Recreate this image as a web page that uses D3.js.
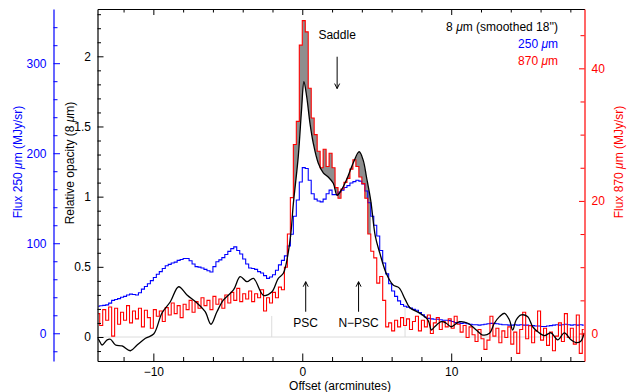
<!DOCTYPE html>
<html><head><meta charset="utf-8">
<script src="https://cdn.jsdelivr.net/npm/d3@7"></script>
<style>
body{margin:0;background:#fff}
svg{display:block;font-family:"Liberation Sans",Arial,Helvetica,sans-serif}
</style></head><body>
<svg id="c" width="628" height="392"></svg>
<script>
// ---- data ----
const offsetStart = -13.7, offsetStep = 0.2;   // sampling of the 250 / 870 micron profiles (arcmin)
const red870 = [
 3.0,1.2,3.6,2.0,4.0,-0.4,3.8,1.4,3.2,2.0, 4.2,1.6,3.4,2.2,3.8,1.0,3.5,2.4,0.8,3.6,
 2.6,3.4,1.8,3.9,2.8,4.6,3.0,4.2,2.4,4.4, 3.6,5.0,3.2,4.8,3.8,5.4,4.2,5.0,3.6,5.6,
 4.4,5.2,3.8,5.8,4.6,6.2,5.0,6.8,4.8,6.0, 5.2,6.4,4.8,6.0,5.4,6.6,3.4,5.4,4.6,6.2,
 5.4,7.0,6.6,10.0,15.0,20.5,28.5,32.0,43.5,47.2, 45.5,37.0,32.5,30.0,27.5,25.0,27.8,25.2,27.2,25.0,
 22.0,20.4,21.8,22.8,23.4,24.8,26.2,25.2,23.6,22.6, 20.4,15.0,12.4,11.4,7.6,8.6,5.0,1.0,1.6,0.4,
 2.0,1.0,2.4,1.2,2.2,0.6,1.8,2.6,0.4,2.0, 1.0,2.8,0.0,1.6,2.4,0.6,1.8,1.0,2.2,0.8,
 2.6,1.4,0.2,1.2,-0.6,1.0,-0.2,-1.2,0.6,-0.8, -2.4,-1.0,2.6,-0.4,0.8,-1.4,0.4,-0.6,1.0,-1.6,
 0.2,-3.0,0.6,3.2,-0.8,1.2,-1.4,0.4,3.4,-1.0, 0.8,-1.8,0.2,-2.6,-0.4,1.6,-1.2,3.0,-0.6,0.8,
 -1.6,2.8,-3.0,0.6
];
const blue250 = [
 30.0,30.5,31.0,31.5,33.5,36.5,37.5,38.5,40.0,41.0, 42.5,43.5,43.0,42.5,45.0,49.0,52.0,55.0,58.5,62.0,
 65.5,68.5,72.0,75.0,76.5,78.0,79.0,81.0,82.0,83.0, 83.0,80.5,77.0,74.0,73.5,72.5,71.0,69.5,68.0,74.0,
 79.5,81.5,84.0,87.5,91.0,94.0,96.0,92.0,88.0,82.5, 77.0,72.5,72.0,71.0,68.5,67.0,64.0,61.0,62.5,65.0,
 70.0,76.0,81.0,86.0,97.0,110.0,130.0,148.0,168.0,184.0, 183.0,170.0,155.0,149.0,147.0,146.0,149.0,155.0,159.0,154.0,
 154.0,157.0,159.0,162.0,164.0,167.0,168.5,170.0,169.0,166.0, 158.0,145.0,130.0,120.0,108.0,92.0,78.0,66.0,55.0,47.0,
 41.0,36.0,32.0,30.0,29.0,28.0,26.5,25.5,23.0,20.5, 18.0,16.5,16.0,15.5,15.5,15.0,14.5,14.5,14.0,13.0,
 12.0,11.5,11.0,11.5,10.5,10.0,9.5,9.5,9.0,9.5, 10.0,10.5,11.0,11.0,10.5,10.0,9.5,9.5,9.0,9.0,
 9.5,9.0,9.5,9.0,9.0,8.5,8.5,8.0,8.0,7.5, 7.5,8.0,8.5,9.0,9.5,9.0,9.5,10.0,9.5,9.0,
 9.5,9.0,9.5,9.0
];
const blackOffset = [
 -13.75,-13.66,-13.44,-13.1,-12.88,-12.54,-12.1,-11.54,-11.09,-10.53,-9.98,-9.42,-8.86,-8.3,-7.74,-7.07,
 -6.52,-6.13,-5.73,-5.29,-4.62,-4.17,-3.72,-3.28,-2.61,-2.05,-1.61,-1.27,-0.82,-0.6,-0.27,-0.05,
 0.11,0.3,0.52,0.74,1.07,1.41,1.74,2.08,2.34,2.64,2.97,3.42,3.82,4.09,4.31,4.6,
 4.9,5.2,5.65,6.1,6.5,6.9,7.21,7.88,8.44,8.67,8.89,9.34,9.67,10.0,10.56,11.12,
 11.68,12.12,12.57,12.9,13.24,13.58,13.91,14.13,14.36,14.7,15.14,15.47,15.81,16.26,16.7,17.15,
 17.6,18.04,18.38,18.7,18.93
];
const blackOpacity = [
 -0.01,-0.021,-0.057,-0.02,-0.016,-0.057,-0.064,-0.098,-0.057,-0.009,0.021,0.171,0.251,0.358,0.299,0.242,
 0.18,0.091,0.18,0.264,0.335,0.43,0.394,0.418,0.297,0.32,0.418,0.454,0.69,0.95,1.285,1.617,
 1.82,1.71,1.52,1.38,1.24,1.17,1.14,1.095,1.01,1.05,1.12,1.24,1.32,1.26,1.14,0.97,
 0.72,0.6,0.45,0.37,0.35,0.27,0.21,0.17,0.121,0.05,0.073,0.109,0.098,0.073,0.109,0.098,
 0.05,0.014,0.026,0.098,0.145,0.169,0.121,0.05,0.121,0.157,0.145,0.073,0.038,0.01,0.03,-0.02,
 0.03,-0.02,-0.04,-0.03,0.03
];
const shadeRange = [-0.6, 4.6];              // region shaded between 8 and 870 micron profiles
const baselineMarks = [[-2.05, 0.15], [6.9, 0.23]];
const xMajor = [-10, 0, 10];
const xMinor = [-12,-8,-6,-4,-2,2,4,6,8,12,14,16,18];
const opMajor = [0, 0.5, 1, 1.5, 2];
const opMinor = [-0.1,0.1,0.2,0.3,0.4,0.6,0.7,0.8,0.9,1.1,1.2,1.3,1.4,1.6,1.7,1.8,1.9,2.1,2.2,2.3];
const blueMajor = [0, 100, 200, 300];
const blueMinor = [-20,20,40,60,80,120,140,160,180,220,240,260,280,320,340];
const redMajor = [0, 20, 40];
const redMinor = [5,10,15,25,30,35,45];
const legend = [
  {t: ["8 ", "μ", "m (smoothed 18'')"], c: "#000"},
  {t: ["250 ", "μ", "m"], c: "#0000ff"},
  {t: ["870 ", "μ", "m"], c: "#ff0000"}
];
const notes = [
  {label: "Saddle", x: 2.34, from: 1.997, to: 1.77, textAt: 2.12},
  {label: "PSC", x: 0.23, from: 0.18, to: 0.394, textAt: 0.068},
  {label: "N−PSC", x: 3.78, from: 0.18, to: 0.394, textAt: 0.068}
];

// ---- chart ----
const svg = d3.select("#c");
const L = 97.5, R = 584.5, T = 9, B = 361;
const x = d3.scaleLinear().domain([-13.75, 18.95]).range([L, R]);
const yL = d3.scaleLinear().domain([-0.171, 2.337]).range([B, T]);
const yB = d3.scaleLinear().domain([-30.8, 360.2]).range([B, T]);
const yR = d3.scaleLinear().domain([-4.15, 48.95]).range([B, T]);
const FS = 12;

svg.append("defs").append("clipPath").attr("id","clip")
  .append("rect").attr("x",L).attr("y",T).attr("width",R-L).attr("height",B-T);
const plot = svg.append("g").attr("clip-path","url(#clip)");

plot.append("line").attr("x1",L).attr("x2",R).attr("y1",yL(0)).attr("y2",yL(0))
  .attr("stroke","#dcdcdc").attr("stroke-width",1);
baselineMarks.forEach(m => plot.append("line")
  .attr("x1",x(m[0])).attr("x2",x(m[0])).attr("y1",yL(0)).attr("y2",yL(m[1]))
  .attr("stroke","#dcdcdc").attr("stroke-width",1));

const redPts = red870.map((v,i)=>[offsetStart+i*offsetStep, v]);
const bluePts = blue250.map((v,i)=>[offsetStart+i*offsetStep, v]);
const blackPts = blackOffset.map((o,i)=>[o, blackOpacity[i]]);

function blackAt(o){
  const i = d3.bisectRight(blackOffset, o);
  if (i<=0) return blackOpacity[0];
  if (i>=blackOffset.length) return blackOpacity[blackOffset.length-1];
  const t=(o-blackOffset[i-1])/(blackOffset[i]-blackOffset[i-1]);
  return blackOpacity[i-1]+t*(blackOpacity[i]-blackOpacity[i-1]);
}
function redAt(o){
  const i = Math.max(0, Math.min(red870.length-1, Math.round((o-offsetStart)/offsetStep)));
  return red870[i];
}
const shadeX = d3.range(shadeRange[0], shadeRange[1]+1e-9, 0.02);
plot.append("path")
  .datum(shadeX)
  .attr("d", d3.area().x(o=>x(o)).y0(o=>yL(blackAt(o))).y1(o=>yR(redAt(o))))
  .attr("fill","#8e8e8e").attr("stroke","none");

plot.append("path").datum(bluePts)
  .attr("d", d3.line().x(d=>x(d[0])).y(d=>yB(d[1])).curve(d3.curveStep))
  .attr("fill","none").attr("stroke","#0000ff").attr("stroke-width",1.1);
plot.append("path").datum(redPts)
  .attr("d", d3.line().x(d=>x(d[0])).y(d=>yR(d[1])).curve(d3.curveStep))
  .attr("fill","none").attr("stroke","#ff0000").attr("stroke-width",1.1);
plot.append("path").datum(blackPts)
  .attr("d", d3.line().x(d=>x(d[0])).y(d=>yL(d[1])).curve(d3.curveCatmullRom))
  .attr("fill","none").attr("stroke","#000").attr("stroke-width",1.3);

function styleAxis(g, color){
  g.attr("font-family",null).attr("font-size",null);
  g.selectAll("path.domain").attr("stroke",color).attr("stroke-width",1.2);
  g.selectAll(".tick line").attr("stroke",color).attr("stroke-width",1);
  g.selectAll(".tick text").attr("fill",color).attr("font-size",FS);
}
let g = svg.append("g").attr("transform",`translate(0,${B})`)
  .call(d3.axisBottom(x).tickValues(xMajor).tickSize(-7.5).tickSizeOuter(0).tickPadding(6.5));
styleAxis(g,"#000");
g = svg.append("g").attr("transform",`translate(0,${B})`)
  .call(d3.axisBottom(x).tickValues(xMinor).tickSize(-4).tickSizeOuter(0).tickFormat(""));
styleAxis(g,"#000"); g.select("path.domain").remove();
g = svg.append("g").attr("transform",`translate(0,${T})`)
  .call(d3.axisTop(x).tickValues(xMajor).tickSize(-6).tickSizeOuter(0).tickFormat(""));
styleAxis(g,"#000");
g = svg.append("g").attr("transform",`translate(0,${T})`)
  .call(d3.axisTop(x).tickValues(xMinor).tickSize(-3.5).tickSizeOuter(0).tickFormat(""));
styleAxis(g,"#000"); g.select("path.domain").remove();
g = svg.append("g").attr("transform",`translate(${L},0)`)
  .call(d3.axisLeft(yL).tickValues(opMajor).tickSize(-6).tickSizeOuter(0).tickPadding(6.5).tickFormat(d=>String(d)));
styleAxis(g,"#000");
g = svg.append("g").attr("transform",`translate(${L},0)`)
  .call(d3.axisLeft(yL).tickValues(opMinor).tickSize(-3.5).tickSizeOuter(0).tickFormat(""));
styleAxis(g,"#000"); g.select("path.domain").remove();
g = svg.append("g").attr("transform",`translate(53.5,0)`)
  .call(d3.axisLeft(yB).tickValues(blueMajor).tickSize(-6.5).tickSizeOuter(0).tickPadding(7).tickFormat(d=>String(d)));
styleAxis(g,"#0000ff");
g = svg.append("g").attr("transform",`translate(53.5,0)`)
  .call(d3.axisLeft(yB).tickValues(blueMinor).tickSize(-4).tickSizeOuter(0).tickFormat(""));
styleAxis(g,"#0000ff"); g.select("path.domain").remove();
g = svg.append("g").attr("transform",`translate(${R},0)`)
  .call(d3.axisRight(yR).tickValues(redMajor).tickSize(-5.5).tickSizeOuter(0).tickPadding(7).tickFormat(d=>String(d)));
styleAxis(g,"#ff0000");
g = svg.append("g").attr("transform",`translate(${R},0)`)
  .call(d3.axisRight(yR).tickValues(redMinor).tickSize(-4).tickSizeOuter(0).tickFormat(""));
styleAxis(g,"#ff0000"); g.select("path.domain").remove();

function richText(sel, parts){
  parts.forEach((p,i)=>sel.append("tspan").text(p).attr("font-style", i===1 ? "italic" : null));
}
svg.append("text").attr("x",340).attr("y",390).attr("text-anchor","middle")
  .attr("font-size",FS).text("Offset (arcminutes)");
let t = svg.append("text").attr("transform","translate(74,163) rotate(-90)")
  .attr("text-anchor","middle").attr("font-size",FS);
richText(t, ["Relative opacity (8 ", "μ", "m)"]);
t = svg.append("text").attr("transform","translate(22,162) rotate(-90)")
  .attr("text-anchor","middle").attr("font-size",FS).attr("fill","#0000ff");
richText(t, ["Flux 250 ", "μ", "m (MJy/sr)"]);
t = svg.append("text").attr("transform","translate(623,162) rotate(-90)")
  .attr("text-anchor","middle").attr("font-size",FS).attr("fill","#ff0000");
richText(t, ["Flux 870 ", "μ", "m (MJy/sr)"]);

legend.forEach((l,i)=>{
  const tt = svg.append("text").attr("x",558).attr("y",31+i*17).attr("text-anchor","end")
    .attr("font-size",FS).attr("fill",l.c);
  richText(tt, l.t);
});

notes.forEach(n=>{
  const xp = x(n.x);
  const y1 = yL(n.from), y2 = yL(n.to);
  svg.append("line").attr("x1",xp).attr("x2",xp).attr("y1",y1).attr("y2",y2)
    .attr("stroke","#000").attr("stroke-width",1);
  const dir = Math.sign(y2-y1);
  svg.append("path").attr("d",`M${xp-2.5},${y2-dir*5}L${xp},${y2}L${xp+2.5},${y2-dir*5}`)
    .attr("fill","none").attr("stroke","#000").attr("stroke-width",1);
  svg.append("text").attr("x",xp).attr("y",yL(n.textAt)).attr("text-anchor","middle")
    .attr("font-size",FS).text(n.label);
});
</script>
</body></html>
